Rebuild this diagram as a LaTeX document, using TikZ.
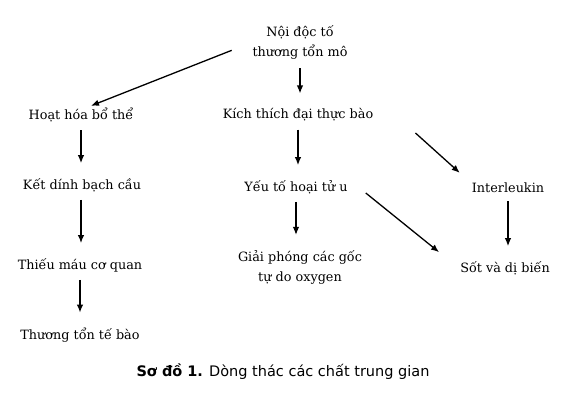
\documentclass[tikz,border=0pt]{standalone}
\usepackage{fontspec}
\setmainfont{DejaVu Serif}
\newfontfamily\capfont{DejaVu Sans}
\usetikzlibrary{arrows.meta}

\begin{document}
\begin{tikzpicture}[x=1pt, y=-1pt,
  lbl/.style={inner sep=2pt, align=center, font=\fontsize{12.8}{20}\selectfont},
  arr/.style={-{Latex[length=8pt,width=6.5pt]}, line width=1.3pt},
  down/.style={arr, shorten <=6pt, shorten >=13pt}]
  \useasboundingbox (0,0) rectangle (575,412);
  % top
  \node[lbl] (top) at (300,43) {Nội độc tố\\thương tổn mô};
  % left column
  \node[lbl] (hoat) at (81,115) {Hoạt hóa bổ thể};
  \node[lbl] (ketdinh) at (82,185) {Kết dính bạch cầu};
  \node[lbl] (thieumau) at (80,265) {Thiếu máu cơ quan};
  \node[lbl] (tonbao) at (80,335) {Thương tổn tế bào};
  % middle column
  \node[lbl] (kich) at (298,115) {Kích thích đại thực bào};
  \node[lbl] (yeuto) at (296,187) {Yếu tố hoại tử u};
  \node[lbl] (giai) at (300,267) {Giải phóng các gốc\\tự do oxygen};
  % right column
  \node[lbl] (inter) at (508,188) {Interleukin};
  \node[lbl] (sot) at (505,268) {Sốt và dị biến};
  % caption
  \node[font=\capfont\fontsize{14.5}{16}\selectfont] (cap) at (283,372) {\textbf{Sơ đồ 1.} Dòng thác các chất trung gian};

  \draw[arr, shorten <=20pt] (top.west) -- ([xshift=10pt]hoat.north);
  \draw[down] (top.south) -- (top.south |- kich.north);
  \draw[down] (hoat.south) -- (hoat.south |- ketdinh.north);
  \draw[down] (hoat.south |- ketdinh.south) -- (hoat.south |- thieumau.north);
  \draw[down] (thieumau.south) -- (thieumau.south |- tonbao.north);
  \draw[down] (kich.south) -- (kich.south |- yeuto.north);
  \draw[down] (yeuto.south) -- (yeuto.south |- giai.north);
  \draw[arr] ([xshift=40pt,yshift=-18pt]kich.east) -- ([xshift=-10pt,yshift=8pt]inter.north west);
  \draw[arr] ([xshift=16pt,yshift=-6pt]yeuto.east) -- ([xshift=-19pt,yshift=7pt]sot.north west);
  \draw[down] (inter.south) -- (inter.south |- sot.north);
\end{tikzpicture}
\end{document}
